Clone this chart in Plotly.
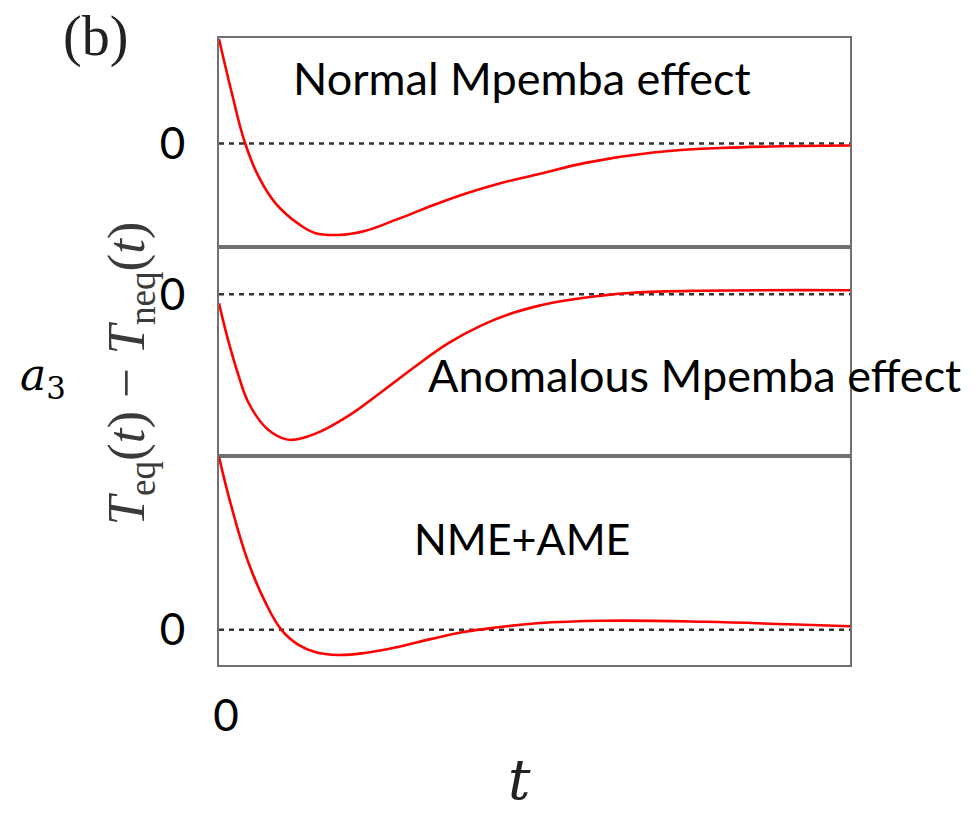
import plotly.graph_objects as go
from plotly.subplots import make_subplots

# Panel 1: Normal Mpemba effect
t_nme = [0, 0.20, 0.41, 0.62, 0.89, 1.26, 1.52, 1.89, 2.31, 2.84, 3.37, 3.90, 4.43, 5.09, 5.83, 6.88, 7.94, 10]
v_nme = [1.04, 0.51, 0.01, -0.32, -0.59, -0.80, -0.89, -0.91, -0.87, -0.75, -0.62, -0.50, -0.40, -0.30, -0.19, -0.09, -0.045, -0.02]

# Panel 2: Anomalous Mpemba effect
t_ame = [0, 0.15, 0.31, 0.46, 0.73, 0.99, 1.15, 1.52, 2.05, 2.58, 3.11, 3.63, 4.16, 4.69, 5.10, 5.52, 6.04, 6.56, 7.62, 10]
v_ame = [-0.09, -0.47, -0.81, -1.07, -1.32, -1.43, -1.45, -1.39, -1.21, -0.97, -0.72, -0.49, -0.31, -0.18, -0.11, -0.06, -0.015, 0.015, 0.035, 0.04]

# Panel 3: NME + AME
t_both = [0, 0.20, 0.46, 0.73, 0.99, 1.26, 1.52, 1.89, 2.31, 2.84, 3.37, 3.90, 4.43, 5.04, 6.10, 7.70, 9.03, 10]
v_both = [1.72, 1.22, 0.68, 0.28, 0.00, -0.15, -0.22, -0.25, -0.23, -0.17, -0.09, -0.02, 0.025, 0.065, 0.09, 0.08, 0.055, 0.035]

panel_labels = ["Normal Mpemba effect", "Anomalous Mpemba effect", "NME+AME"]
y_ranges = [[-1.03, 1.05], [-1.61, 0.47], [-0.35, 1.73]]
x_range = [0, 10]

series = [(t_nme, v_nme), (t_ame, v_ame), (t_both, v_both)]

fig = make_subplots(rows=3, cols=1, shared_xaxes=True, vertical_spacing=0)

for i, (tt, vv) in enumerate(series, start=1):
    fig.add_trace(go.Scatter(x=x_range, y=[0, 0], mode="lines",
                             line=dict(color="#333333", width=2.5, dash="5px,5px"),
                             showlegend=False, hoverinfo="skip"), row=i, col=1)
    fig.add_trace(go.Scatter(x=tt, y=vv, mode="lines",
                             line=dict(color="#ff0000", width=2.6, shape="spline", smoothing=1.2),
                             showlegend=False), row=i, col=1)
    fig.update_yaxes(range=y_ranges[i - 1], tickvals=[0], ticktext=["0"],
                     showgrid=False, zeroline=False, showline=True, mirror=True,
                     linecolor="#707070", linewidth=2, ticks="",
                     ticklabelstandoff=23,
                     tickfont=dict(family="Lato", size=44, color="black"),
                     row=i, col=1)
    fig.update_xaxes(range=x_range, showgrid=False, zeroline=False, showline=True,
                     mirror=True, linecolor="#707070", linewidth=2, ticks="",
                     showticklabels=False, row=i, col=1)

fig.update_xaxes(showticklabels=True, tickvals=[0], ticktext=["0"],
                 ticklabelstandoff=11, ticklabelshift=7,
                 tickfont=dict(family="Lato", size=44, color="black"), row=3, col=1)

ann_font = dict(family="Lato", size=45, color="black")
fig.add_annotation(xref="paper", yref="paper", x=0.480, y=0.936, xanchor="center", yanchor="middle",
                   text=panel_labels[0], showarrow=False, font=ann_font)
fig.add_annotation(xref="paper", yref="paper", x=0.754, y=0.4625, xanchor="center", yanchor="middle",
                   text=panel_labels[1], showarrow=False, font=ann_font)
fig.add_annotation(xref="paper", yref="paper", x=0.480, y=0.201, xanchor="center", yanchor="middle",
                   text=panel_labels[2], showarrow=False,
                   font=dict(family="Lato", size=43, color="black"))

# y-axis title
fig.add_annotation(xref="paper", yref="paper", x=-0.141, y=0.465, xanchor="center", yanchor="middle",
                   text="<i>T</i><sub>eq</sub>(<i>t</i>) − <i>T</i><sub>neq</sub>(<i>t</i>)",
                   textangle=-90, showarrow=False,
                   font=dict(family="Liberation Serif", size=53, color="#3a3a3a"))
# a3 label
fig.add_annotation(xref="paper", yref="paper", x=-0.279, y=0.458, xanchor="center", yanchor="middle",
                   text="<i>a</i><sub>3</sub>", showarrow=False,
                   font=dict(family="DejaVu Serif", size=44, color="black"))
# (b)
fig.add_annotation(xref="paper", yref="paper", x=-0.195, y=1.003, xanchor="center", yanchor="middle",
                   text="(b)", showarrow=False,
                   font=dict(family="Liberation Serif", size=56, color="#222222"))
# x-axis title t
fig.add_annotation(xref="paper", yref="paper", x=0.477, y=-0.183, xanchor="center", yanchor="middle",
                   text="<i>t</i>", showarrow=False,
                   font=dict(family="DejaVu Serif", size=56, color="#222222"))

fig.update_layout(width=977, height=813, plot_bgcolor="white", paper_bgcolor="white",
                  margin=dict(l=219, r=127, t=38, b=148))

fig.write_html("out.html", config={"displayModeBar": False},
               post_script="document.body.style.margin='0px';")
